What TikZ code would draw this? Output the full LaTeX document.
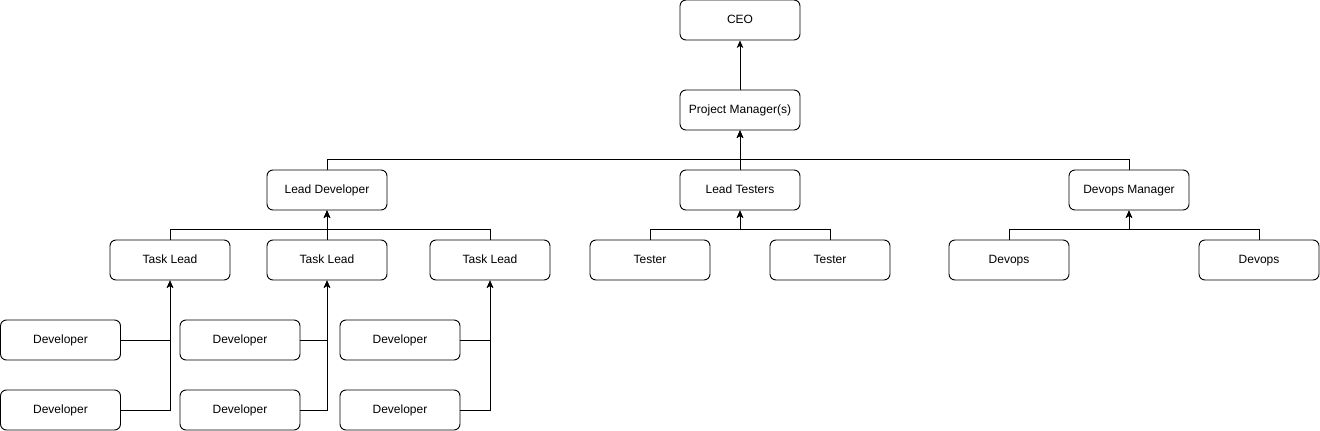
\documentclass[tikz,border=0pt]{standalone}
\usepackage{fontspec}
\setmainfont{Liberation Sans}
\usetikzlibrary{arrows.meta}
\begin{document}
\begin{tikzpicture}[x=1pt,y=-1pt,
  box/.style={draw,line width=0.9pt,rounded corners=6pt,minimum width=120pt,minimum height=40pt,inner sep=0pt,text height=8.6pt,text depth=2.4pt,font=\fontsize{12}{14}\selectfont},
  arr/.style={draw,line width=0.9pt,-{Stealth[length=7.5pt,width=6.5pt,inset=2pt]}},
  ln/.style={draw,line width=0.9pt}]
\useasboundingbox (0,0) rectangle (1320,431);
\node[box] (ceo) at (740,20) {CEO};
\node[box] (pm) at (740,110) {Project Manager(s)};
\node[box] (ld) at (327,190) {Lead Developer};
\node[box] (lt) at (740,190) {Lead Testers};
\node[box] (dm) at (1129,190) {Devops Manager};
\node[box] (tl1) at (170,260) {Task Lead};
\node[box] (tl2) at (327,260) {Task Lead};
\node[box] (tl3) at (490,260) {Task Lead};
\node[box] (t1) at (650,260) {Tester};
\node[box] (t2) at (830,260) {Tester};
\node[box] (dv1) at (1009,260) {Devops};
\node[box] (dv2) at (1259,260) {Devops};
\node[box] (d1) at (60.5,340) {Developer};
\node[box] (d2) at (60.5,410) {Developer};
\node[box] (d3) at (240,340) {Developer};
\node[box] (d4) at (240,410) {Developer};
\node[box] (d5) at (400,340) {Developer};
\node[box] (d6) at (400,410) {Developer};
% top
\draw[arr] (pm) -- (ceo);
\draw[arr] (lt) -- (pm);
\draw[arr] (ld.north) -- ++(0,-10) -| (pm.south);
\draw[arr] (dm.north) -- ++(0,-10) -| (pm.south);
% task leads
\draw[arr] (tl2) -- (ld);
\draw[arr] (tl1.north) -- ++(0,-10) -| (ld.south);
\draw[arr] (tl3.north) -- ++(0,-10) -| (ld.south);
% testers
\draw[arr] (t1.north) -- ++(0,-10) -| (lt.south);
\draw[arr] (t2.north) -- ++(0,-10) -| (lt.south);
% devops
\draw[arr] (dv1.north) -- ++(0,-10) -| (dm.south);
\draw[arr] (dv2.north) -- ++(0,-10) -| (dm.south);
% developers
\draw[arr] (d1.east) -| (tl1.south);
\draw[arr] (d2.east) -| (tl1.south);
\draw[arr] (d3.east) -| (tl2.south);
\draw[arr] (d4.east) -| (tl2.south);
\draw[arr] (d5.east) -| (tl3.south);
\draw[arr] (d6.east) -| (tl3.south);
\end{tikzpicture}
\end{document}
